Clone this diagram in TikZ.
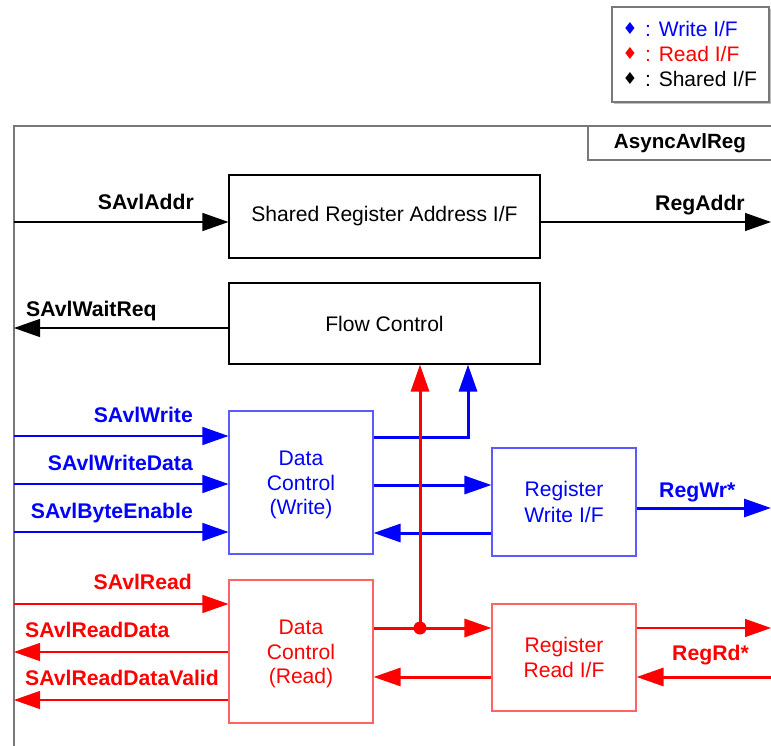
\documentclass[tikz,border=0pt]{standalone}
\usepackage{fontspec}
\setmainfont{Liberation Sans}
\newfontfamily\dejavu{DejaVu Sans}
\usetikzlibrary{arrows.meta}
\definecolor{wblue}{RGB}{0,0,255}
\definecolor{wbox}{RGB}{90,90,255}
\definecolor{rred}{RGB}{255,0,0}
\definecolor{rbox}{RGB}{255,100,100}
\definecolor{framegray}{RGB}{120,120,120}
\tikzset{
  txt/.style={font=\fontsize{21}{25}\selectfont, inner sep=0pt},
  lbl/.style={font=\bfseries\fontsize{21.2}{25}\selectfont, inner sep=0pt},
  box/.style={draw, line width=1.1pt, inner sep=0pt, align=center, font=\fontsize{21.1}{25.5}\selectfont},
  boxtext/.style={inner sep=0pt, align=center, font=\fontsize{21.1}{24.5}\selectfont},
  thin/.style={line width=1.3pt, -{Triangle[length=26pt,width=18pt]}},
  thick/.style={line width=3pt, -{Triangle[length=27pt,width=18pt]}},
}
\begin{document}
\begin{tikzpicture}[x=1pt,y=-1pt]
\useasboundingbox (0,0) rectangle (771,746);
% legend
\fill[gray!50] (614,9) rectangle (772,104);
\draw[framegray, line width=1.2pt, fill=white] (612,7) rectangle (769,102);
\node[txt, anchor=base, text=wblue] (ld1) at (630,35) {\dejavu\fontsize{16.5}{16.5}\selectfont ♦};
\node[txt, anchor=base west, text=wblue] (lt1) at (645,37) {: Write I/F};
\node[txt, anchor=base, text=rred] (ld2) at (630,60) {\dejavu\fontsize{16.5}{16.5}\selectfont ♦};
\node[txt, anchor=base west, text=rred] (lt2) at (645,62) {: Read I/F};
\node[txt, anchor=base] (ld3) at (630,85) {\dejavu\fontsize{16.5}{16.5}\selectfont ♦};
\node[txt, anchor=base west] (lt3) at (645,87) {: Shared I/F};
% frame
\draw[framegray, line width=2pt] (14,760) -- (14,126) -- (775,126);
\draw[framegray, line width=1.2pt] (775,160) -- (588,160) -- (588,126);
\node[lbl, font=\bfseries\fontsize{20.6}{25}\selectfont] (title) at (680,143) {AsyncAvlReg};
% boxes
\node[box, minimum width=311pt, minimum height=83pt] (sra) at (384.5,216.5) {Shared Register Address I/F};
\node[box, minimum width=311pt, minimum height=81pt] (fc) at (384.5,323.5) {Flow Control};
\node[box, draw=wbox, minimum width=144pt, minimum height=143pt] (dcw) at (301,482.5) {};
\node[boxtext, text=wblue] (dcwt) at ([yshift=-2.5pt]dcw.center) {Data\\Control\\(Write)};
\node[box, draw=wbox, text=wblue, minimum width=144pt, minimum height=108pt] (rwi) at (564,502) {Register\\Write I/F};
\node[box, draw=rbox, minimum width=144pt, minimum height=143pt] (dcr) at (301,651.5) {};
\node[boxtext, text=rred] (dcrt) at ([yshift=-2.5pt]dcr.center) {Data\\Control\\(Read)};
\node[box, draw=rbox, text=rred, minimum width=144pt, minimum height=107pt] (rri) at (564,657.5) {Register\\Read I/F};
% edge coordinates
\coordinate (inAddr) at (14,222);
\coordinate (outAddr) at (771,222);
\coordinate (outWait) at (14,328);
\coordinate (inWr) at (14,436);
\coordinate (inWd) at (14,484);
\coordinate (inBe) at (14,532);
\coordinate (inRd) at (14,604);
\coordinate (outRdd) at (14,652);
\coordinate (outRdv) at (14,700);
\coordinate (outRegWr) at (771,508);
\coordinate (outRegRd) at (771,628);
\coordinate (inRegRd) at (771,677);
\coordinate (wcorner) at (468,437);
\coordinate (rdot) at (420,628);
% shared
\draw[thin] (inAddr) -- (sra.west |- inAddr);
\draw[thin] (sra.east |- outAddr) -- (outAddr);
\draw[thin] (fc.west |- outWait) -- (outWait);
\node[lbl, anchor=base east] (lAddr) at (194,210) {SAvlAddr};
\node[lbl, anchor=base west] (lRegAddr) at (655,211) {RegAddr};
\node[lbl, anchor=base west] (lWait) at (26,316) {SAvlWaitReq};
% write
\begin{scope}[wblue]
\draw[thin] (inWr) -- (dcw.west |- inWr);
\draw[thin] (inWd) -- (dcw.west |- inWd);
\draw[thin] (inBe) -- (dcw.west |- inBe);
\draw[thick] (dcw.east |- wcorner) -- (wcorner) -- (wcorner |- fc.south);
\draw[thick] (dcw.east |- 0,485) -- (rwi.west |- 0,485);
\draw[thick] (rwi.west |- 0,533) -- (dcw.east |- 0,533);
\draw[thick] (rwi.east |- outRegWr) -- (outRegWr);
\end{scope}
\node[lbl, anchor=base east, text=wblue] (lWr) at (193,422) {SAvlWrite};
\node[lbl, anchor=base east, text=wblue] (lWd) at (193,470) {SAvlWriteData};
\node[lbl, anchor=base east, text=wblue] (lBe) at (193,518) {SAvlByteEnable};
\node[lbl, anchor=base west, text=wblue] (lRegWr) at (659,497) {RegWr*};
% read
\begin{scope}[rred]
\draw[thin] (inRd) -- (dcr.west |- inRd);
\draw[thin] (dcr.west |- outRdd) -- (outRdd);
\draw[thin] (dcr.west |- outRdv) -- (outRdv);
\draw[thick] (dcr.east |- rdot) -- (rri.west |- rdot);
\draw[thick] (rdot) -- (rdot |- fc.south);
\fill (rdot) circle (6.5pt);
\draw[thick] (rri.west |- 0,677) -- (dcr.east |- 0,677);
\draw[thin] (rri.east |- outRegRd) -- (outRegRd);
\draw[thick] (inRegRd) -- (rri.east |- inRegRd);
\end{scope}
\node[lbl, anchor=base east, text=rred] (lRd) at (192,589) {SAvlRead};
\node[lbl, anchor=base west, text=rred] (lRdd) at (25,637) {SAvlReadData};
\node[lbl, anchor=base west, text=rred] (lRdv) at (25,685) {SAvlReadDataValid};
\node[lbl, anchor=base west, text=rred] (lRegRd) at (672,660) {RegRd*};
\end{tikzpicture}
\end{document}
